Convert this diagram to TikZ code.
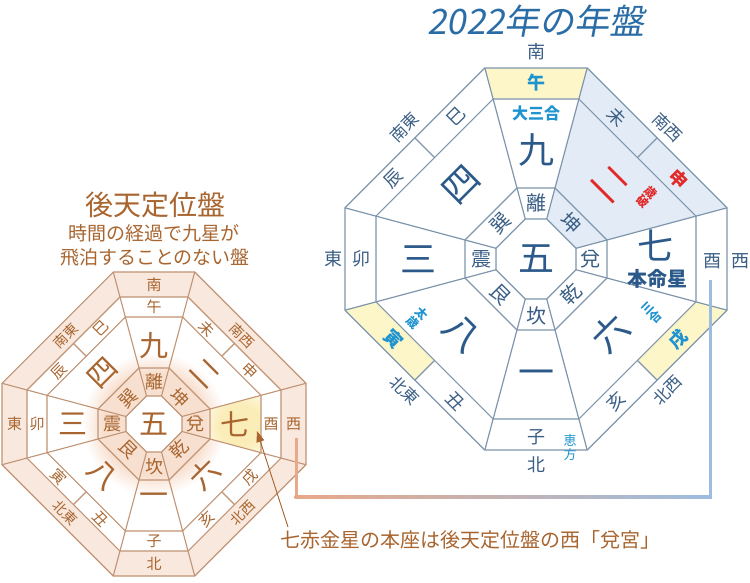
\documentclass[tikz,border=0pt]{standalone}
\usepackage{fontspec}
\setmainfont{Noto Sans CJK JP}
\newfontfamily\ttlfont{Noto Sans CJK JP}[FakeSlant=0.18]
\usetikzlibrary{arrows.meta}
\definecolor{rline}{HTML}{7F96AD}
\definecolor{rtext}{HTML}{3A5E84}
\definecolor{rstar}{HTML}{2B5A8A}
\definecolor{rcyan}{HTML}{1E93D0}
\definecolor{rred}{HTML}{E12A2A}
\definecolor{ryel}{HTML}{FCF6C8}
\definecolor{rblue}{HTML}{E3ECF6}
\definecolor{lline}{HTML}{C09475}
\definecolor{ltext}{HTML}{A8652F}
\definecolor{lpeach}{HTML}{F9E8DE}
\definecolor{lglow}{HTML}{F8E0D0}
\definecolor{lyel}{HTML}{FBEDB8}
\definecolor{conl}{HTML}{E8A889}
\definecolor{conr}{HTML}{9DBDE0}
\definecolor{ttl}{HTML}{2A6DA6}
\pgfdeclareradialshading{lglowsh}{\pgfpointorigin}{color(0bp)=(lglow); color(13bp)=(lglow); color(18bp)=(white); color(50bp)=(white)}
\pgfdeclareradialshading{lyelsh}{\pgfpointorigin}{color(0bp)=(lyel); color(10bp)=(lyel); color(25bp)=(white); color(50bp)=(white)}
\newcommand\octt{0.26795}
\newcommand\myoct[4]{\path[#1] ({#2+\octt*#4},{#3-#4}) -- ({#2+#4},{#3-\octt*#4}) -- ({#2+#4},{#3+\octt*#4}) -- ({#2+\octt*#4},{#3+#4}) -- ({#2-\octt*#4},{#3+#4}) -- ({#2-#4},{#3+\octt*#4}) -- ({#2-#4},{#3-\octt*#4}) -- ({#2-\octt*#4},{#3-#4}) -- cycle;}
\newcommand\myrays[5]{\foreach \sx in {1,-1}{\foreach \sy in {1,-1}{%
 \draw[#1] ({#2+\sx*\octt*#4},{#3+\sy*#4}) -- ({#2+\sx*\octt*#5},{#3+\sy*#5});
 \draw[#1] ({#2+\sx*#4},{#3+\sy*\octt*#4}) -- ({#2+\sx*#5},{#3+\sy*\octt*#5});
 }}}
\newcommand\mydiv[5]{\foreach \sx in {1,-1}{\foreach \sy in {1,-1}{%
 \draw[#1] ({#2+\sx*0.633975*#4},{#3+\sy*0.633975*#4}) -- ({#2+\sx*0.633975*#5},{#3+\sy*0.633975*#5});
 }}}
\tikzset{
 rl/.style={draw=rline, line width=1.2pt},
 ll/.style={draw=lline, line width=1.1pt},
 rlab/.style={text=rtext, font=\fontsize{18}{18}\selectfont, inner sep=0pt},
 rdir/.style={text=rtext, font=\fontsize{16.5}{16.5}\selectfont, inner sep=0pt},
 rtri/.style={text=rtext, font=\fontsize{20}{20}\selectfont, inner sep=0pt},
 rbig/.style={text=rstar, font=\fontsize{36}{36}\selectfont, inner sep=0pt},
 rcy/.style={text=rcyan, font=\bfseries\fontsize{18}{18}\selectfont, inner sep=0pt},
 rsm/.style={font=\bfseries\fontsize{12}{12.5}\selectfont, align=center, inner sep=0pt},
 llab/.style={text=ltext, font=\fontsize{15}{15}\selectfont, inner sep=0pt},
 ldir/.style={text=ltext, font=\fontsize{14}{14}\selectfont, inner sep=0pt},
 ltri/.style={text=ltext, font=\fontsize{18}{18}\selectfont, inner sep=0pt},
 lbig/.style={text=ltext, font=\fontsize{29}{29}\selectfont, inner sep=0pt},
}
\begin{document}
\begin{tikzpicture}[x=1pt,y=-1pt]
\useasboundingbox (0,0) rectangle (750,582);
\fill[white] (0,0) rectangle (750,582);
% ================= LEFT BOARD =================
\myoct{fill=lpeach}{154}{424}{152}
\myoct{fill=white}{154}{424}{127}
\begin{scope}
 \myoct{clip}{154}{424}{107}
 \shade[shading=lglowsh] (154,424) circle (100);
\end{scope}
\begin{scope}
 \path[clip] ({154+56},{424-\octt*56}) -- ({154+107},{424-\octt*107}) -- ({154+107},{424+\octt*107}) -- ({154+56},{424+\octt*56}) -- cycle;
 \shade[shading=lyelsh] (240,425) circle (50);
\end{scope}
\myoct{fill=white}{154}{424}{28}
\foreach \a in {152,127,107,56,28}{\myoct{ll}{154}{424}{\a}}
\myrays{ll}{154}{424}{28}{152}
\mydiv{ll}{154}{424}{107}{127}
% ================= RIGHT BOARD =================
\path[fill=rblue] ({536+\octt*40},{259-40}) -- ({536+\octt*191},{259-191}) -- ({536+191},{259-\octt*191}) -- ({536+40},{259-\octt*40}) -- cycle;
\path[fill=ryel] ({536-\octt*160},{259-160}) -- ({536+\octt*160},{259-160}) -- ({536+\octt*191},{259-191}) -- ({536-\octt*191},{259-191}) -- cycle;
\path[fill=ryel] ({536-191},{259+\octt*191}) -- ({536-0.633975*191},{259+0.633975*191}) -- ({536-0.633975*160},{259+0.633975*160}) -- ({536-160},{259+\octt*160}) -- cycle;
\path[fill=ryel] ({536+191},{259+\octt*191}) -- ({536+0.633975*191},{259+0.633975*191}) -- ({536+0.633975*160},{259+0.633975*160}) -- ({536+160},{259+\octt*160}) -- cycle;
\foreach \a in {191,160,71,40}{\myoct{rl}{536}{259}{\a}}
\myrays{rl}{536}{259}{40}{191}
\mydiv{rl}{536}{259}{160}{191}
% ================= CONNECTOR =================
\coordinate (cA) at (296,438);
\coordinate (cB) at (296,497);
\coordinate (cC) at (710,497);
\coordinate (cD) at (710,280);
\fill[conl] ([xshift=-1.5pt]cA) rectangle ([xshift=1.5pt,yshift=-1.5pt]cB);
\shade[left color=conl, right color=conr] ([xshift=-1.5pt,yshift=-1.5pt]cB) rectangle ([xshift=1.5pt,yshift=1.5pt]cC);
\fill[conr] ([xshift=-1.5pt,yshift=-1.5pt]cC) rectangle ([xshift=1.5pt]cD);
% ================= TITLES =================
\node[text=ttl, font=\ttlfont\fontsize{35}{35}\selectfont, inner sep=0pt] (rTitle) at (536,21) {2022年の年盤};
\node[text=ltext, font=\fontsize{28}{28}\selectfont, inner sep=0pt] (lTitle) at (155,205) {後天定位盤};
\node[text=ltext, font=\fontsize{19}{19}\selectfont, inner sep=0pt] (lSub1) at (154,233) {時間の経過で九星が};
\node[text=ltext, font=\fontsize{19}{19}\selectfont, inner sep=0pt] (lSub2) at (155,257) {飛泊することのない盤};
% ================= LEFT TEXTS =================
\node[llab] (lS) at (154,284.5) {南};
\node[llab] (lWu) at (154,307) {午};
\node[lbig] (l9) at (154,346) {九};
\node[ltri] (lLi) at (154,382) {離};
\node[lbig] (l5) at (154,424) {五};
\node[ltri] (lKan) at (154,467) {坎};
\node[lbig] (l1) at (154,499) {一};
\node[llab] (lZi) at (154,541) {子};
\node[llab] (lN) at (154,563.5) {北};
\node[llab] (lE) at (14.5,424) {東};
\node[llab] (lMao) at (37,424) {卯};
\node[lbig] (l3) at (73,424) {三};
\node[ltri] (lZhen) at (112,424) {震};
\node[ltri] (lDui) at (195,424) {兌};
\node[lbig] (l7) at (235,424) {七};
\node[llab] (lYou) at (271,424) {酉};
\node[llab] (lW) at (293.5,424) {西};
\node[ldir,rotate=45] (lSE) at (65.6,335.6) {南東};
\node[ldir,rotate=-45] (lSW) at (242.4,335.6) {南西};
\node[ldir,rotate=-45] (lNE) at (65.6,512.4) {北東};
\node[ldir,rotate=45] (lNW) at (242.4,512.4) {北西};
\node[llab,rotate=45] (lSi) at (101,328.6) {巳};
\node[llab,rotate=45] (lChen) at (58.6,371) {辰};
\node[llab,rotate=-45] (lWei) at (207,328.6) {未};
\node[llab,rotate=-45] (lShen) at (249.4,371) {申};
\node[llab,rotate=-45] (lYin) at (58.6,477) {寅};
\node[llab,rotate=-45] (lChou) at (101,519.4) {丑};
\node[llab,rotate=45] (lXu) at (249.4,477) {戌};
\node[llab,rotate=45] (lHai) at (207,519.4) {亥};
\node[lbig,rotate=45] (l4) at (103.1,373.1) {四};
\node[lbig,rotate=-45] (l2) at (204.9,373.1) {二};
\node[lbig,rotate=-45] (l8) at (103.1,474.9) {八};
\node[lbig,rotate=45] (l6) at (204.9,474.9) {六};
\node[ltri,rotate=45] (lXun) at (128.5,398.5) {巽};
\node[ltri,rotate=-45] (lKun) at (179.5,398.5) {坤};
\node[ltri,rotate=-45] (lGen) at (128.5,449.5) {艮};
\node[ltri,rotate=45] (lQian) at (179.5,449.5) {乾};
% ================= RIGHT TEXTS =================
\node[rlab] (rS) at (536,52) {南};
\node[rcy] (rWu) at (536,83) {午};
\node[rcy, font=\bfseries\fontsize{16}{16}\selectfont] (rDsg) at (536,113) {大三合};
\node[rbig] (r9) at (536,150) {九};
\node[rtri] (rLi) at (536,203) {離};
\node[rbig] (r5) at (536,259) {五};
\node[rtri] (rKan) at (536,316) {坎};
\node[rbig] (r1) at (536,378) {一};
\node[rlab] (rZi) at (536,437) {子};
\node[rlab] (rN) at (536,465) {北};
\node[rsm, text=rcyan, font=\fontsize{13}{14}\selectfont] (rEho) at (570,448) {恵\\方};
\node[rlab] (rE) at (333,259) {東};
\node[rlab] (rMao) at (361,259) {卯};
\node[rbig] (r3) at (418,259) {三};
\node[rtri] (rZhen) at (481,259) {震};
\node[rtri] (rDui) at (590,259) {兌};
\node[rbig] (r7) at (655,245) {七};
\node[text=rstar, font=\bfseries\fontsize{20}{20}\selectfont, inner sep=0pt] (rHms) at (657,279) {本命星};
\node[rlab] (rYou) at (712,261) {酉};
\node[rlab] (rW) at (740,261) {西};
\node[rdir,rotate=45] (rSE) at (404.5,127.5) {南東};
\node[rdir,rotate=-45] (rSW) at (667.5,127.5) {南西};
\node[rdir,rotate=-45] (rNE) at (404.5,390.5) {北東};
\node[rdir,rotate=45] (rNW) at (667.5,390.5) {北西};
\node[rlab,rotate=45] (rSi) at (455.8,116.6) {巳};
\node[rlab,rotate=45] (rChen) at (393.6,178.8) {辰};
\node[rlab,rotate=-45] (rWei) at (616.2,116.6) {未};
\node[rcy,rotate=-45,text=rred] (rShen) at (678.4,178.8) {申};
\node[rcy,rotate=-45] (rYin) at (393.6,339.2) {寅};
\node[rlab,rotate=-45] (rChou) at (455.8,401.4) {丑};
\node[rcy,rotate=45] (rXu) at (678.4,339.2) {戌};
\node[rlab,rotate=45] (rHai) at (616.2,401.4) {亥};
\node[rbig,rotate=45] (r4) at (461.8,184.8) {四};
\node[rbig,rotate=-45,text=rred] (r2) at (610.2,184.8) {二};
\node[rbig,rotate=-45] (r8) at (461.8,333.2) {八};
\node[rbig,rotate=45] (r6) at (610.2,333.2) {六};
\node[rtri,rotate=45] (rXun) at (500.6,223.6) {巽};
\node[rtri,rotate=-45] (rKun) at (571.4,223.6) {坤};
\node[rtri,rotate=-45] (rGen) at (500.6,294.4) {艮};
\node[rtri,rotate=45] (rQian) at (571.4,294.4) {乾};
\node[rsm,text=rred,rotate=-45] (rSaiha) at (647,197.4) {歳\\破};
\node[rsm,text=rcyan,rotate=-45] (rTaisai) at (417.2,318.4) {太\\歳};
\node[rsm,text=rcyan,rotate=45] (rSango) at (652,312.8) {三\\合};
% ================= NOTE =================
\node[text=ltext, font=\fontsize{20}{20}\selectfont, inner sep=0pt, anchor=west] (note) at (280,540) {七赤金星の本座は後天定位盤の西「兌宮」};
\coordinate (atail) at (288,527);
\coordinate (atip) at (257,431);
\draw[draw=ltext, fill=ltext, line width=0.9pt, -{Triangle[length=11pt,width=8pt]}] (atail) -- (atip);
\end{tikzpicture}
\end{document}
